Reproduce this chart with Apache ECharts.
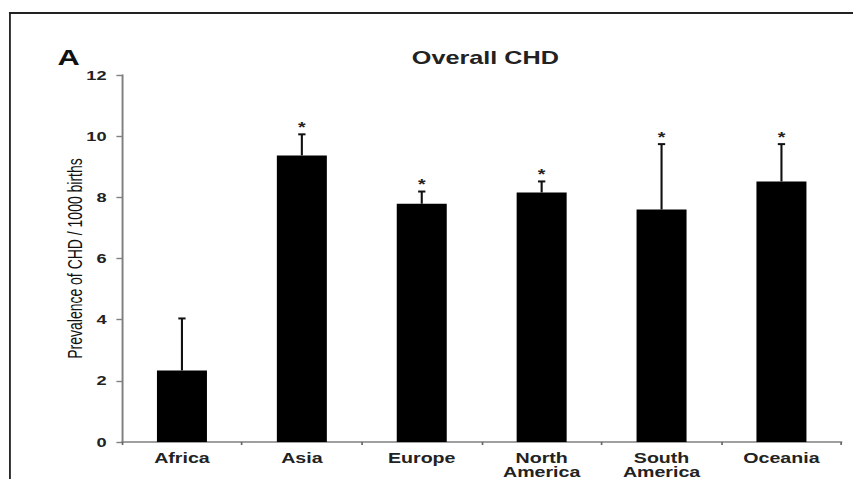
<!DOCTYPE html>
<html>
<head>
<meta charset="utf-8">
<script src="https://cdn.jsdelivr.net/npm/echarts@6/dist/echarts.min.js"></script>
<style>
  html, body { margin: 0; padding: 0; background: #fff; }
  #wrap { width: 853px; height: 479px; overflow: hidden; position: relative; }
  #main { width: 609px; height: 479px; transform: scaleX(1.4007); transform-origin: 0 0; }
</style>
</head>
<body>
<div id="wrap"><div id="main"></div></div>
<script>
const categories = ['Africa', 'Asia', 'Europe', 'North\nAmerica', 'South\nAmerica', 'Oceania'];
const prevalence = [2.34, 9.37, 7.79, 8.16, 7.60, 8.52];
const upperError = [4.04, 10.06, 8.19, 8.52, 9.74, 9.74];
const significance = ['', '*', '*', '*', '*', '*'];
const yTicks = { min: 0, max: 12, interval: 2 };

const FONT = "'Liberation Sans', Arial, sans-serif";
const chart = echarts.init(document.getElementById('main'), null, { renderer: 'svg' });

const errorData = categories.map((c, i) => [i, prevalence[i], upperError[i]]);

chart.setOption({
  animation: false,
  backgroundColor: '#fff',
  title: [
    { text: 'Overall CHD', left: 289, top: 44,
      textStyle: { fontFamily: FONT, fontSize: 18, fontWeight: 'bold', color: '#222' } },
    { text: 'A', left: 36, top: 42,
      textStyle: { fontFamily: FONT, fontSize: 22, fontWeight: 'bold', color: '#111' } }
  ],
  graphic: [
    { type: 'line', shape: { x1: 6.4, y1: 13, x2: 609, y2: 13 }, style: { stroke: '#222', lineWidth: 1.8 } },
    { type: 'line', shape: { x1: 7.1, y1: 13, x2: 7.1, y2: 479 }, style: { stroke: '#222', lineWidth: 1.3 } }
  ],
  grid: { left: 87.1, right: 8.3, top: 75, bottom: 37, containLabel: false },
  xAxis: {
    type: 'category',
    data: categories,
    axisLine: { lineStyle: { color: '#808080', width: 1.6 } },
    axisTick: { show: true, length: 3, lineStyle: { color: '#666', width: 1.2 } },
    axisLabel: { fontFamily: FONT, fontSize: 14, fontWeight: 'bold', color: '#222', lineHeight: 14, margin: 9, interval: 0 },
    splitLine: { show: false }
  },
  yAxis: {
    type: 'value',
    min: yTicks.min, max: yTicks.max, interval: yTicks.interval,
    name: 'Prevalence of CHD / 1000 births',
    nameLocation: 'middle',
    nameGap: 26,
    nameMoveOverlap: false,
    nameTextStyle: { fontFamily: FONT, fontSize: 14, color: '#111' },
    axisLine: { show: true, lineStyle: { color: '#808080', width: 1.4 } },
    axisTick: { show: true, length: 4, lineStyle: { color: '#808080', width: 1.4 } },
    axisLabel: { fontFamily: FONT, fontSize: 13, fontWeight: 'bold', color: '#222', margin: 11 },
    splitLine: { show: false }
  },
  series: [
    {
      type: 'bar',
      data: prevalence,
      barWidth: 35.7,
      itemStyle: { color: '#000' },
      z: 2
    },
    {
      type: 'custom',
      data: errorData,
      z: 3,
      renderItem: function (params, api) {
        const base = api.coord([api.value(0), api.value(1)]);
        const top = api.coord([api.value(0), api.value(2)]);
        const x = base[0];
        const star = significance[params.dataIndex];
        const children = [
          { type: 'line', shape: { x1: x, y1: base[1], x2: x, y2: top[1] }, style: { stroke: '#111', lineWidth: 1.5 } },
          { type: 'line', shape: { x1: x - 2.6, y1: top[1], x2: x + 2.6, y2: top[1] }, style: { stroke: '#111', lineWidth: 2 } }
        ];
        if (star) {
          children.push({ type: 'text', style: { text: star, x: x, y: top[1] - 7, textAlign: 'center', textVerticalAlign: 'middle', font: 'bold 14px ' + FONT, fill: '#222' } });
        }
        return { type: 'group', children: children };
      }
    }
  ]
});
</script>
</body>
</html>
